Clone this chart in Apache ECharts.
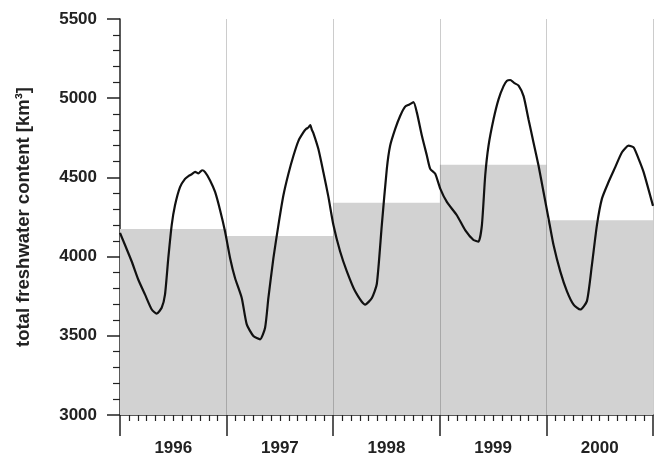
<!DOCTYPE html>
<html>
<head>
<meta charset="utf-8">
<script src="https://cdn.jsdelivr.net/npm/echarts@6/dist/echarts.min.js"></script>
<style>
    html, body { margin: 0; padding: 0; background: #fff; }
    #chart { width: 663px; height: 457px; }
</style>
</head>
<body>
<div id="chart"></div>
<script>
// annual means (grey blocks)
var years = [1996, 1997, 1998, 1999, 2000];
var yearMeans = [4175, 4130, 4340, 4580, 4230];

// freshwater content time series (decimal year, km3)
var fwcTime = [
    1996.000, 1996.047, 1996.110, 1996.172, 1996.235, 1996.298, 1996.344, 1996.391, 1996.422, 1996.453,
    1996.485, 1996.516, 1996.563, 1996.610, 1996.645, 1996.673, 1996.705, 1996.735, 1996.770, 1996.798,
    1996.845, 1996.892, 1996.939, 1996.986, 1997.033, 1997.079, 1997.142, 1997.189, 1997.251, 1997.314,
    1997.361, 1997.392, 1997.439, 1997.486, 1997.533, 1997.580, 1997.627, 1997.674, 1997.720, 1997.745,
    1997.767, 1997.785, 1997.800, 1997.814, 1997.861, 1997.908, 1997.955, 1998.002, 1998.065, 1998.128,
    1998.206, 1998.300, 1998.363, 1998.409, 1998.456, 1998.503, 1998.534, 1998.581, 1998.628, 1998.675,
    1998.715, 1998.753, 1998.785, 1998.832, 1998.879, 1998.910, 1998.957, 1999.004, 1999.066, 1999.160,
    1999.238, 1999.316, 1999.363, 1999.395, 1999.426, 1999.457, 1999.504, 1999.551, 1999.598, 1999.630,
    1999.661, 1999.700, 1999.739, 1999.786, 1999.832, 1999.879, 1999.926, 1999.973, 2000.020, 2000.067,
    2000.130, 2000.193, 2000.255, 2000.318, 2000.380, 2000.427, 2000.474, 2000.521, 2000.583, 2000.646,
    2000.709, 2000.771, 2000.818, 2000.865, 2000.912, 2001.000
];
var fwcValues = [
    4150, 4073, 3969, 3854, 3760, 3666, 3640, 3677, 3760, 3990,
    4199, 4324, 4439, 4491, 4510, 4520, 4535, 4525, 4545, 4533,
    4481, 4408, 4293, 4157, 3990, 3865, 3739, 3572, 3499, 3478,
    3551, 3739, 3990, 4199, 4387, 4523, 4637, 4731, 4784, 4805,
    4815, 4830, 4800, 4780, 4679, 4533, 4377, 4199, 4032, 3907,
    3781, 3697, 3739, 3827, 4199, 4554, 4700, 4805, 4888, 4947,
    4960, 4975, 4909, 4763, 4637, 4554, 4523, 4429, 4345, 4261,
    4167, 4105, 4095, 4199, 4512, 4700, 4867, 4993, 5076, 5110,
    5115, 5095, 5080, 5013, 4867, 4721, 4575, 4408, 4241, 4073,
    3907, 3781, 3697, 3666, 3719, 3948, 4199, 4366, 4471, 4565,
    4659, 4700, 4690, 4617, 4533, 4320
];

var yTicks = { min: 3000, max: 5500, interval: 500 };
var yearLines = [1997, 1998, 1999, 2000, 2001];

var labelFont = {
    fontFamily: 'Liberation Sans, Arial, sans-serif',
    fontWeight: 'bold',
    fontSize: 17,
    color: '#222'
};

var ChartDIY = {
    chart: null,

    _stepData: function () {
        var d = [];
        $each(years, function (i, y) { d.push([y, yearMeans[i]]); });
        d.push([years[years.length - 1] + 1, yearMeans[yearMeans.length - 1]]);
        return d;
    },

    _lineData: function () {
        var d = [];
        $each(fwcTime, function (i, t) { d.push([t, fwcValues[i]]); });
        return d;
    },

    _yearMarks: function () {
        var d = [];
        $each(yearLines, function (i, y) { d.push({ xAxis: y }); });
        return d;
    },

    init: function (id) {
        this.chart = echarts.init(document.getElementById(id), null, { renderer: 'canvas' });
        this.chart.setOption({
            animation: false,
            grid: { left: 120, right: 10, top: 19, bottom: 39, containLabel: false },
            xAxis: [
                {
                    type: 'value',
                    min: 1996,
                    max: 2001,
                    interval: 1,
                    axisLine: { show: true, lineStyle: { color: '#222', width: 1.5 } },
                    axisTick: { show: true, length: 21, lineStyle: { color: '#222', width: 1.5 } },
                    minorTick: { show: true, splitNumber: 12, length: 6, lineStyle: { color: '#222', width: 1.2 } },
                    axisLabel: { show: false },
                    splitLine: { show: false }
                },
                {
                    // only used to put year names in the middle of each year
                    type: 'value',
                    position: 'bottom',
                    min: 1996,
                    max: 2001,
                    interval: 0.5,
                    axisLine: { show: false },
                    axisTick: { show: false },
                    splitLine: { show: false },
                    axisLabel: $extend({
                        margin: 25,
                        formatter: function (v) {
                            return (Math.abs(v % 1 - 0.5) < 0.01) ? String(Math.floor(v)) : '';
                        }
                    }, labelFont)
                }
            ],
            yAxis: {
                type: 'value',
                min: yTicks.min,
                max: yTicks.max,
                interval: yTicks.interval,
                name: 'total freshwater content [km\u00b3]',
                nameLocation: 'middle',
                nameGap: 87,
                nameTextStyle: { fontFamily: labelFont.fontFamily, fontWeight: 'bold', fontSize: 18.5, color: '#222' },
                axisLine: { show: true, lineStyle: { color: '#222', width: 1.5 } },
                axisTick: { show: true, length: 13, lineStyle: { color: '#222', width: 1.5 } },
                minorTick: { show: true, splitNumber: 5, length: 7, lineStyle: { color: '#222', width: 1.2 } },
                axisLabel: $extend({
                    margin: 23,
                    formatter: function (v) { return String(v); }
                }, labelFont),
                splitLine: { show: false }
            },
            series: [
                {
                    name: 'annual mean',
                    type: 'line',
                    step: 'end',
                    xAxisIndex: 0,
                    data: this._stepData(),
                    showSymbol: false,
                    silent: true,
                    lineStyle: { width: 0, opacity: 0 },
                    areaStyle: { color: '#d2d2d2', opacity: 1, origin: 'start' },
                    markLine: {
                        silent: true,
                        symbol: ['none', 'none'],
                        label: { show: false },
                        lineStyle: { color: 'rgba(0,0,0,0.2)', width: 1, type: 'solid' },
                        data: this._yearMarks()
                    },
                    z: 1
                },
                {
                    name: 'freshwater content',
                    type: 'line',
                    xAxisIndex: 0,
                    data: this._lineData(),
                    showSymbol: false,
                    smooth: 0.2,
                    lineStyle: { color: '#111', width: 2.2 },
                    z: 3
                }
            ]
        });
    }
};

// tiny helpers, no jquery here
function $each(arr, fn) {
    for (var i = 0; i < arr.length; i++) { fn(i, arr[i]); }
}
function $extend(a, b) {
    var o = {}, k;
    for (k in a) { o[k] = a[k]; }
    for (k in b) { o[k] = b[k]; }
    return o;
}

ChartDIY.init('chart');
</script>
</body>
</html>
